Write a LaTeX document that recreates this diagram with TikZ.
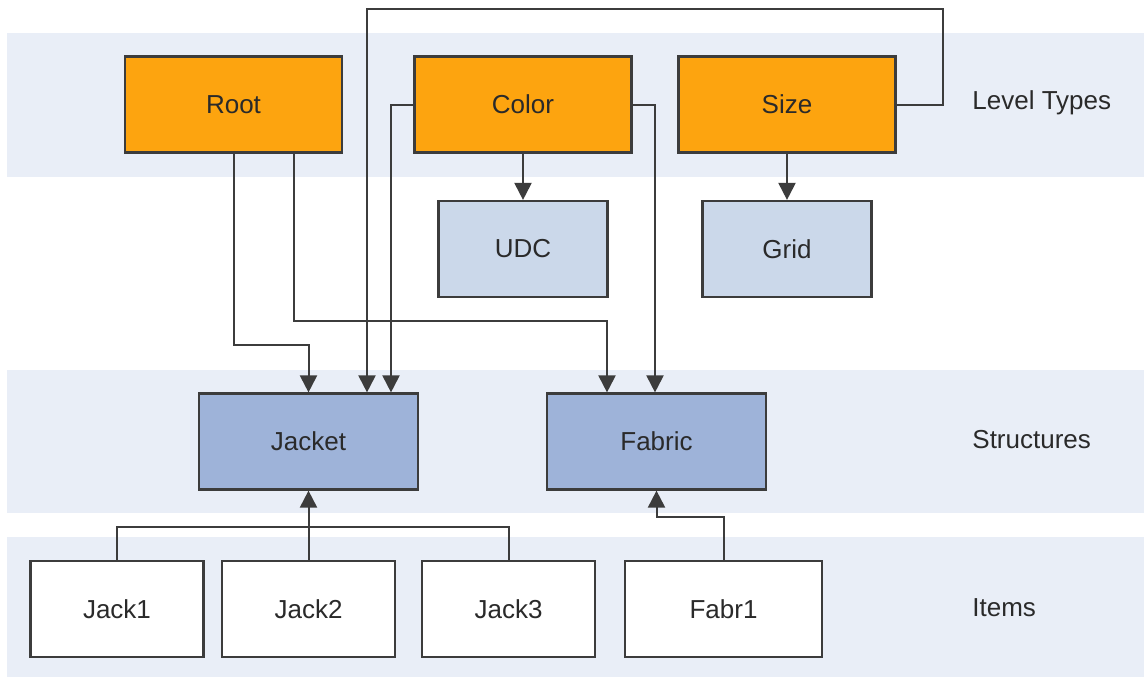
\documentclass[tikz,border=0pt]{standalone}
\usepackage{fontspec}
\setmainfont{Liberation Sans}
\usetikzlibrary{arrows.meta}
\definecolor{bandfill}{HTML}{E9EEF7}
\definecolor{typefill}{HTML}{FDA40F}
\definecolor{attrfill}{HTML}{CBD8EA}
\definecolor{structfill}{HTML}{9EB3D9}
\definecolor{linegray}{HTML}{3C3C3C}
\definecolor{textgray}{HTML}{2A2A2A}
\begin{document}
\begin{tikzpicture}[x=0.5pt,y=-0.5pt,
    box/.style={draw=linegray,line width=1.1pt,minimum height=48pt,inner sep=0pt,
        font=\fontsize{13}{15}\selectfont,text=textgray},
    typebox/.style={box,fill=typefill,minimum width=108.5pt},
    attrbox/.style={box,fill=attrfill,minimum width=84.5pt},
    structbox/.style={box,fill=structfill,minimum width=109.5pt},
    itembox/.style={box,fill=white,minimum width=86.5pt},
    band/.style={fill=bandfill,draw=none},
    bandlabel/.style={anchor=west,inner sep=0pt,font=\fontsize{13}{15}\selectfont,text=textgray},
    conn/.style={draw=linegray,line width=1pt},
    arr/.style={conn,-{Triangle[width=8.5pt,length=8.5pt]}}]
    \useasboundingbox (0,0) rectangle (1144,677);
    \fill[white] (0,0) rectangle (1144,677);

    \path[band] (7,33) rectangle (1144,177);
    \path[band] (7,370) rectangle (1144,513);
    \path[band] (7,537) rectangle (1144,677);

    \node[bandlabel] (LT) at (972,103) {Level Types};
    \node[bandlabel] (ST) at (972,440) {Structures};
    \node[bandlabel] (IT) at (972,608) {Items};

    \node[typebox] (Root) at (233.5,104.5) {Root};
    \node[typebox] (Color) at (523,104.5) {Color};
    \node[typebox] (Size) at (787,104.5) {Size};
    \node[attrbox] (UDC) at (523,249) {UDC};
    \node[attrbox] (Grid) at (787,249) {Grid};
    \node[structbox] (Jacket) at (308.5,441.5) {Jacket};
    \node[structbox] (Fabric) at (656.5,441.5) {Fabric};
    \node[itembox] (Jack1) at (117,609) {Jack1};
    \node[itembox] (Jack2) at (308.5,609) {Jack2};
    \node[itembox] (Jack3) at (508.5,609) {Jack3};
    \node[itembox,minimum width=98.5pt] (Fabr1) at (723.5,609) {Fabr1};

    \draw[arr] (Root.south) |- (308.5,345) -- (Jacket.north);
    \draw[arr] (Root.south -| 294,0) |- (607,321) -- (Fabric.north -| 607,0);
    \draw[arr] (Size.east) -| (943,9) -| (Jacket.north -| 367,0);
    \draw[arr] (Color.west) -| (Jacket.north -| 391,0);
    \draw[arr] (Color.east) -| (Fabric.north -| 655,0);
    \draw[arr] (Color.south) -- (UDC.north);
    \draw[arr] (Size.south) -- (Grid.north);
    \draw[conn] (Jack1.north) |- (508.5,527) -- (Jack3.north);
    \draw[arr] (Jack2.north) -- (Jacket.south);
    \draw[arr] (Fabr1.north) |- (656.5,517) -- (Fabric.south);
\end{tikzpicture}
\end{document}
